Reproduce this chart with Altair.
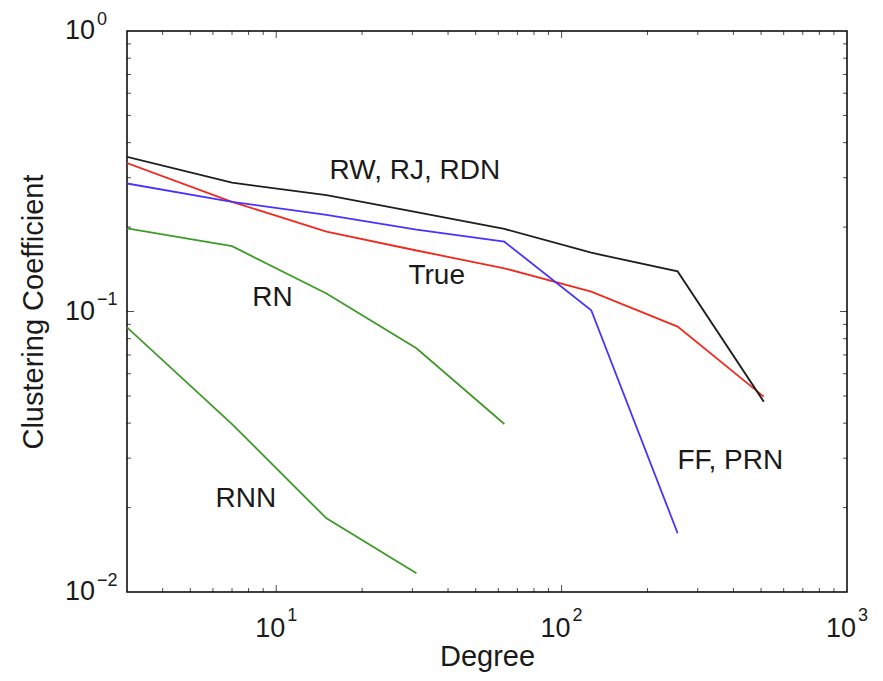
import altair as alt
import pandas as pd

# ---- data ----
degree = [3, 7, 15, 31, 63, 127, 255, 511]
cc_rw = [0.356, 0.288, 0.260, 0.226, 0.197, 0.162, 0.139, 0.0477]
cc_true = [0.338, 0.246, 0.1925, 0.165, 0.1426, 0.1177, 0.0883, 0.0497]
cc_ff = [0.286, 0.246, 0.221, 0.196, 0.1774, 0.101, 0.0162]
cc_rn = [0.198, 0.171, 0.116, 0.0739, 0.0397]
cc_rnn = [0.0878, 0.0397, 0.0183, 0.01166]

series_names = ["True", "RW, RJ, RDN", "FF, PRN", "RN", "RNN"]
series_colors = ["#f02a1c", "#1e1e1e", "#4a32ff", "#3f9a2a", "#3f9a2a"]

label_text = ["RW, RJ, RDN", "True", "RN", "RNN", "FF, PRN"]
label_x = [30.6, 36.5, 9.71, 7.83, 390.0]
label_y = [0.317, 0.134, 0.112, 0.0215, 0.0294]

x_major = [10, 100]
x_minor = [4, 5, 6, 7, 8, 9, 20, 30, 40, 50, 60, 70, 80, 90,
           200, 300, 400, 500, 600, 700, 800, 900]
y_major = [0.1]
y_minor = [0.02, 0.03, 0.04, 0.05, 0.06, 0.07, 0.08, 0.09,
           0.2, 0.3, 0.4, 0.5, 0.6, 0.7, 0.8, 0.9]

x_label_vals = [10, 100, 1000]
x_label_exp = ["1", "2", "3"]
y_label_vals = [1, 0.1, 0.01]
y_label_exp = ["0", "\u22121", "\u22122"]

FONT = "Liberation Sans"
TXT = "#1a1a1a"

# ---- tables ----
rows = []
for name, vals in [("True", cc_true), ("RW, RJ, RDN", cc_rw), ("FF, PRN", cc_ff),
                   ("RN", cc_rn), ("RNN", cc_rnn)]:
    for i, v in enumerate(vals):
        rows.append({"series": name, "degree": degree[i], "cc": v, "order": i})
lines_df = pd.DataFrame(rows)

labels_df = pd.DataFrame({"text": label_text, "x": label_x, "y": label_y})

xt = [{"v": v, "edge": e, "len": 14} for v in x_major for e in (0.01, 1)] + \
     [{"v": v, "edge": e, "len": 8} for v in x_minor for e in (0.01, 1)]
xticks_df = pd.DataFrame(xt)
yt = [{"v": v, "edge": e, "len": 14} for v in y_major for e in (3, 1000)] + \
     [{"v": v, "edge": e, "len": 8} for v in y_minor for e in (3, 1000)]
yticks_df = pd.DataFrame(yt)

xlab_df = pd.DataFrame({"v": x_label_vals, "exp": x_label_exp, "base": ["10"] * 3, "edge": [0.01] * 3})
ylab_df = pd.DataFrame({"v": y_label_vals, "exp": y_label_exp, "base": ["10"] * 3, "edge": [3] * 3})

xscale = alt.Scale(type="log", domain=[3, 1000], nice=False)
yscale = alt.Scale(type="log", domain=[0.01, 1], nice=False)

xaxis = alt.Axis(title="Degree", labels=False, ticks=False, domain=False, grid=False,
                 titleFont=FONT, titleFontSize=29, titleFontWeight="normal", titleColor=TXT,
                 titleY=73, titleBaseline="alphabetic")
yaxis = alt.Axis(title="Clustering Coefficient", labels=False, ticks=False, domain=False, grid=False,
                 titleFont=FONT, titleFontSize=29, titleFontWeight="normal", titleColor=TXT,
                 titleX=-85, titleY=280.5, titleBaseline="alphabetic")

lines = alt.Chart(lines_df).mark_line(strokeWidth=1.8, clip=True).encode(
    x=alt.X("degree:Q", scale=xscale, axis=xaxis),
    y=alt.Y("cc:Q", scale=yscale, axis=yaxis),
    color=alt.Color("series:N", scale=alt.Scale(domain=series_names, range=series_colors), legend=None),
    order="order:Q",
)

labels = alt.Chart(labels_df).mark_text(font=FONT, fontSize=28, color=TXT,
                                        align="center", baseline="middle").encode(
    x=alt.X("x:Q", scale=xscale), y=alt.Y("y:Q", scale=yscale), text="text:N")

xticks = alt.Chart(xticks_df).mark_tick(orient="vertical", thickness=1, color="black", clip=True).encode(
    x=alt.X("v:Q", scale=xscale), y=alt.Y("edge:Q", scale=yscale),
    size=alt.Size("len:Q", scale=None))
yticks = alt.Chart(yticks_df).mark_tick(orient="horizontal", thickness=1, color="black", clip=True).encode(
    y=alt.Y("v:Q", scale=yscale), x=alt.X("edge:Q", scale=xscale),
    size=alt.Size("len:Q", scale=None))

xbase = alt.Chart(xlab_df).mark_text(font=FONT, fontSize=27, color=TXT, align="right",
                                     baseline="middle", dx=9, dy=37).encode(
    x=alt.X("v:Q", scale=xscale), y=alt.Y("edge:Q", scale=yscale), text="base:N")
xexp = alt.Chart(xlab_df).mark_text(font=FONT, fontSize=18, color=TXT, align="left",
                                    baseline="middle", dx=11, dy=24).encode(
    x=alt.X("v:Q", scale=xscale), y=alt.Y("edge:Q", scale=yscale), text="exp:N")
ybase = alt.Chart(ylab_df).mark_text(font=FONT, fontSize=27, color=TXT, align="right",
                                     baseline="middle", dx=-32, dy=0).encode(
    y=alt.Y("v:Q", scale=yscale), x=alt.X("edge:Q", scale=xscale), text="base:N")
yexp = alt.Chart(ylab_df).mark_text(font=FONT, fontSize=18, color=TXT, align="left",
                                    baseline="middle", dx=-30, dy=-11.5).encode(
    y=alt.Y("v:Q", scale=yscale), x=alt.X("edge:Q", scale=xscale), text="exp:N")

chart = alt.layer(lines, labels, xticks, yticks, xbase, xexp, ybase, yexp).properties(
    width=720, height=561,
    background="white",
    autosize=alt.AutoSizeParams(type="none"),
    padding={"left": 119, "top": 23, "right": 28, "bottom": 81},
).configure_view(stroke="black", strokeWidth=1.5)

chart.save("out.html", embed_options={"renderer": "svg", "actions": False})
